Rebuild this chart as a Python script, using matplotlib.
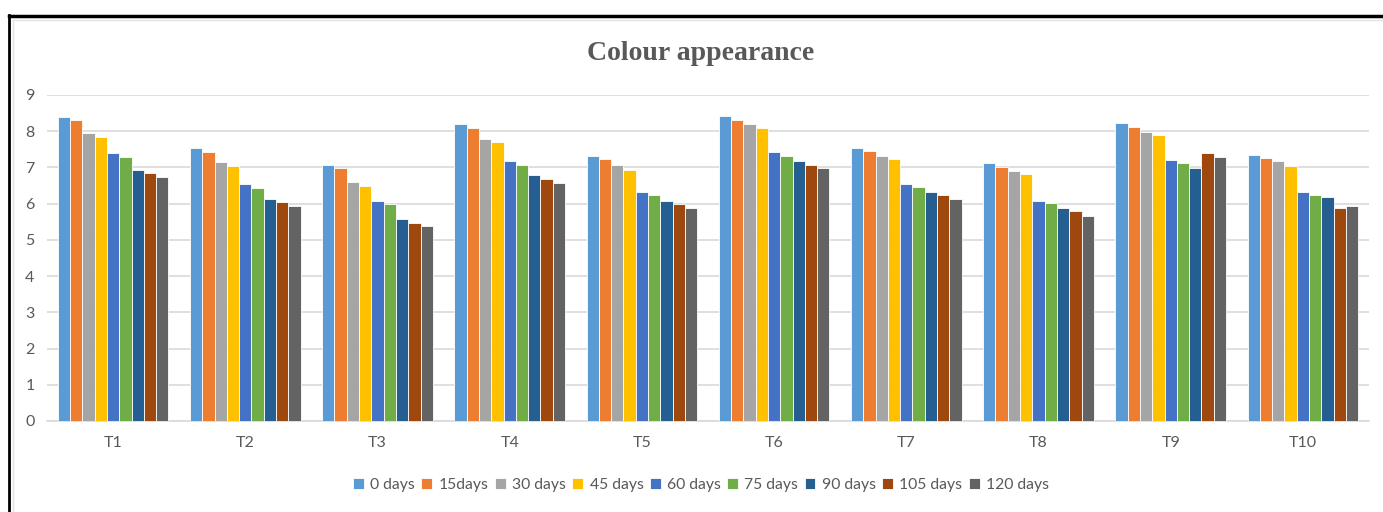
import matplotlib
matplotlib.use("Agg")
import matplotlib.pyplot as plt
import numpy as np

treatments = ["T1", "T2", "T3", "T4", "T5", "T6", "T7", "T8", "T9", "T10"]
storage_days = ["0 days", "15days", "30 days", "45 days", "60 days",
                "75 days", "90 days", "105 days", "120 days"]

day_0 = [8.40, 7.55, 7.08, 8.20, 7.32, 8.43, 7.55, 7.11, 8.22, 7.34]
day_15 = [8.30, 7.44, 6.98, 8.09, 7.24, 8.32, 7.46, 7.01, 8.12, 7.27]
day_30 = [7.94, 7.16, 6.60, 7.79, 7.06, 8.19, 7.32, 6.89, 7.98, 7.19]
day_45 = [7.83, 7.04, 6.50, 7.69, 6.94, 8.09, 7.24, 6.81, 7.90, 7.05]
day_60 = [7.41, 6.53, 6.07, 7.19, 6.33, 7.43, 6.55, 6.08, 7.20, 6.33]
day_75 = [7.28, 6.43, 5.98, 7.08, 6.23, 7.31, 6.46, 6.01, 7.11, 6.24]
day_90 = [6.94, 6.14, 5.59, 6.80, 6.08, 7.19, 6.33, 5.87, 6.98, 6.19]
day_105 = [6.84, 6.04, 5.48, 6.67, 5.98, 7.08, 6.23, 5.81, 7.41, 5.87]
day_120 = [6.75, 5.94, 5.38, 6.58, 5.87, 6.98, 6.14, 5.67, 7.28, 5.94]

series = [day_0, day_15, day_30, day_45, day_60, day_75, day_90, day_105, day_120]
colors = ["#5B9BD5", "#ED7D31", "#A5A5A5", "#FFC000", "#4472C4",
          "#70AD47", "#255E91", "#9E480E", "#636363"]

text_gray = "#595959"
ui_font = ["Lato", "DejaVu Sans"]

fig = plt.figure(figsize=(13.83, 5.12), dpi=100)

# outer frame: black top/left edge with a light inner chart border
fig.add_artist(plt.Line2D([8.5 / 1383, 8.5 / 1383], [0, 1 - 15 / 512],
                          transform=fig.transFigure, color="black", lw=2))
fig.add_artist(plt.Line2D([8.5 / 1383, 1], [1 - 15.5 / 512, 1 - 15.5 / 512],
                          transform=fig.transFigure, color="black", lw=2.5))
fig.add_artist(plt.Line2D([12.5 / 1383, 12.5 / 1383], [0, 1 - 19.5 / 512],
                          transform=fig.transFigure, color="#E3E3E3", lw=1))
fig.add_artist(plt.Line2D([12.5 / 1383, 1], [1 - 19.5 / 512, 1 - 19.5 / 512],
                          transform=fig.transFigure, color="#E3E3E3", lw=1))

ax = fig.add_axes([47 / 1383, 1 - 421 / 512, (1369 - 47) / 1383, (421 - 95) / 512])

n = len(series)
x = np.arange(len(treatments))
bar_w = 0.093
for i, (vals, col, lab) in enumerate(zip(series, colors, storage_days)):
    offs = (i - (n - 1) / 2) * bar_w
    ax.bar(x + offs, vals, width=bar_w, color=col, edgecolor="white",
           linewidth=0.6, label=lab, zorder=3)

ax.set_xlim(-0.5, len(treatments) - 0.5)
ax.set_ylim(0, 9)
ax.set_yticks(range(0, 10))
ax.set_xticks(x)
ax.set_xticklabels(treatments)
ax.yaxis.grid(True, color="#D9D9D9", lw=1.2, zorder=0)
ax.set_axisbelow(True)
for s in ["top", "right", "left"]:
    ax.spines[s].set_visible(False)
ax.spines["bottom"].set_color("#D9D9D9")
ax.spines["bottom"].set_linewidth(1.2)
ax.tick_params(axis="both", length=0, colors=text_gray, labelsize=11.5)
ax.tick_params(axis="x", pad=11)
ax.tick_params(axis="y", pad=9)
for t in ax.get_xticklabels() + ax.get_yticklabels():
    t.set_family(ui_font)

fig.text(701 / 1383, 1 - 53 / 512, "Colour appearance", ha="center", va="center",
         fontsize=20, fontweight="bold", color=text_gray,
         family=["Liberation Serif", "DejaVu Serif"])

leg = fig.legend(loc="center", bbox_to_anchor=(701 / 1383, 1 - 485 / 512), ncol=n,
                 frameon=False, prop={"family": ui_font, "size": 11.3},
                 handlelength=0.7, handleheight=0.7, handletextpad=0.4,
                 columnspacing=0.4, labelcolor=text_gray)

fig.savefig("out.png", dpi=100, facecolor="white")
